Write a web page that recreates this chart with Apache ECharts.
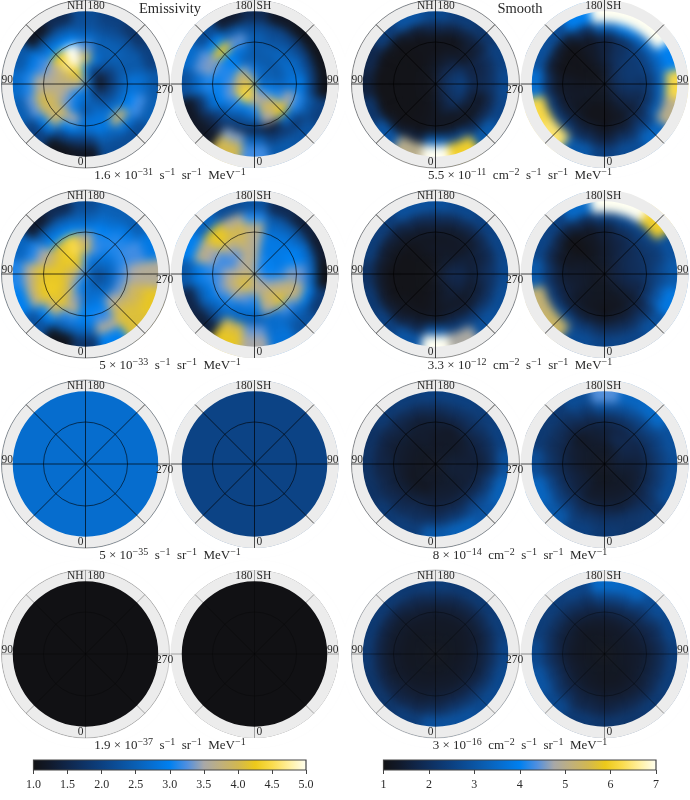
<!DOCTYPE html>
<html>
<head>
<meta charset="utf-8">
<script src="https://cdn.jsdelivr.net/npm/echarts@6/dist/echarts.min.js"></script>
<style>
html, body { margin: 0; padding: 0; background: #fff; }
#heat, #over { position: absolute; left: 0; top: 0; width: 690px; height: 800px; }
/* the source map is a smoothed image, so the cell layer gets a soft blur */
#heat { filter: blur(4px); }
</style>
</head>
<body>
<div id="heat"></div>
<div id="over"></div>
<script>
// radial cell edges (axis runs 0..1, the map stops at 0.866 under the grey ring)
var ringEdges = [0, 0.12, 0.25, 0.38, 0.5, 0.62, 0.74, 1];

var palette = ['#111114', '#111a2c', '#10264a', '#0e3366', '#0c4080', '#0b4f9a', '#0a5fb4', '#066fd2', '#0080f0',
    '#4f8fe0', '#a8a8a8', '#c0b07c', '#d2b850', '#ecc91a', '#fadc4e', '#fff0a0', '#fffff2'];

// rows = rings from the pole outward, columns = longitude 0, 22.5, ... 337.5
var emisNh1 = [
    [2.8, 3.0, 3.2, 3.5, 3.6, 3.8, 4.0, 3.8, 3.0, 2.6, 2.4, 2.2, 2.0, 2.2, 2.5, 2.7],
    [2.7, 2.8, 3.0, 3.4, 3.7, 3.9, 4.2, 4.5, 3.0, 2.3, 1.7, 1.3, 1.2, 1.5, 2.0, 2.4],
    [2.3, 2.9, 3.3, 3.6, 3.7, 3.8, 4.6, 5.0, 4.0, 2.8, 2.3, 1.9, 1.9, 2.1, 2.3, 2.6],
    [2.8, 3.5, 3.9, 3.9, 3.6, 3.5, 4.3, 5.0, 3.3, 2.5, 2.5, 2.4, 2.5, 2.6, 2.8, 2.8],
    [2.7, 3.0, 3.8, 4.0, 3.6, 3.2, 3.0, 3.0, 2.7, 2.5, 2.5, 2.4, 2.8, 3.0, 3.8, 2.9],
    [1.9, 2.0, 2.9, 3.3, 3.1, 2.9, 2.4, 2.4, 2.3, 2.2, 2.3, 2.4, 2.7, 3.2, 2.8, 2.5],
    [1.2, 1.1, 2.0, 2.5, 2.7, 2.4, 1.2, 1.6, 2.2, 2.0, 1.8, 2.0, 2.4, 2.5, 2.2, 2.2]
];
var emisSh1 = [
    [3.6, 3.3, 3.0, 2.8, 2.7, 2.6, 2.6, 2.8, 3.2, 3.7, 3.9, 4.0, 4.1, 4.3, 4.5, 4.2],
    [3.6, 3.5, 3.4, 3.0, 2.7, 2.5, 2.5, 2.6, 2.7, 3.2, 3.7, 3.9, 3.7, 4.2, 4.5, 4.4],
    [3.1, 3.9, 3.9, 3.1, 2.6, 2.4, 2.4, 2.4, 2.4, 2.5, 3.0, 3.1, 3.2, 3.3, 3.1, 2.9],
    [2.4, 3.5, 4.2, 3.5, 2.8, 2.7, 2.6, 2.5, 2.4, 2.8, 3.0, 3.1, 3.0, 3.0, 2.6, 2.3],
    [1.6, 1.4, 2.6, 3.1, 2.9, 2.6, 2.4, 2.3, 2.5, 3.3, 4.2, 3.4, 3.1, 2.7, 2.0, 1.8],
    [2.5, 1.9, 1.9, 2.4, 2.0, 2.0, 2.0, 2.1, 2.2, 2.4, 3.0, 3.3, 2.7, 1.8, 1.5, 3.4],
    [3.2, 2.4, 2.3, 2.0, 1.1, 1.1, 1.1, 1.2, 1.6, 1.3, 2.2, 2.7, 2.3, 1.2, 1.2, 4.0]
];
var emisNh2 = [
    [2.9, 3.0, 3.1, 3.2, 3.3, 3.5, 3.6, 3.4, 3.0, 2.7, 2.6, 2.4, 2.3, 2.4, 2.5, 2.7],
    [2.7, 3.0, 3.4, 3.8, 3.9, 4.1, 4.2, 4.2, 3.2, 2.9, 2.6, 2.5, 2.2, 2.2, 2.4, 2.6],
    [2.7, 3.4, 4.0, 4.2, 4.2, 4.2, 4.3, 4.5, 4.0, 3.2, 2.9, 2.7, 2.6, 2.6, 2.7, 2.8],
    [3.0, 3.7, 4.2, 4.3, 4.2, 3.9, 4.1, 4.4, 3.6, 3.1, 3.1, 3.1, 3.2, 3.3, 3.5, 3.0],
    [3.0, 3.1, 3.8, 4.2, 4.1, 3.5, 3.0, 3.0, 2.9, 3.0, 3.1, 3.2, 3.5, 3.8, 3.9, 3.2],
    [2.6, 2.5, 3.0, 3.7, 3.6, 3.1, 2.5, 2.5, 2.5, 2.7, 2.9, 3.2, 3.6, 4.0, 4.1, 3.6],
    [1.8, 1.1, 2.3, 3.0, 3.1, 2.6, 1.3, 1.6, 2.2, 2.5, 2.5, 2.9, 3.6, 4.2, 4.1, 3.0]
];
var emisSh2 = [
    [3.7, 3.6, 3.4, 3.3, 3.2, 3.1, 3.1, 3.2, 3.5, 3.6, 3.6, 3.7, 3.8, 4.0, 4.0, 3.9],
    [3.6, 3.6, 3.6, 3.3, 3.0, 3.0, 3.0, 3.1, 3.6, 3.7, 3.6, 3.5, 3.7, 4.0, 4.1, 3.9],
    [3.1, 3.8, 3.9, 3.6, 3.1, 2.9, 2.9, 2.9, 3.6, 3.7, 3.3, 3.2, 3.5, 3.7, 3.6, 3.3],
    [2.8, 3.6, 4.1, 3.8, 3.4, 3.0, 2.9, 2.9, 3.6, 3.9, 3.6, 3.2, 3.2, 3.3, 3.1, 2.8],
    [2.5, 2.7, 3.2, 3.7, 3.3, 3.0, 2.8, 2.7, 3.7, 4.0, 4.2, 3.5, 3.1, 2.9, 2.7, 2.6],
    [3.3, 2.7, 2.6, 2.9, 2.6, 2.6, 2.4, 2.4, 3.1, 3.6, 4.2, 3.7, 2.9, 2.5, 2.2, 4.0],
    [3.5, 2.8, 2.3, 1.9, 1.1, 1.3, 1.4, 1.6, 2.3, 2.2, 2.6, 3.0, 2.4, 1.5, 1.4, 4.2]
];
var emisNh3 = [[2.72]];
var emisSh3 = [[2.05]];
var emisNh4 = [[1.0]];
var emisSh4 = [[1.0]];

var smoothNh1 = [
    [1.3, 1.2, 1.1, 1.1, 1.1, 1.1, 1.1, 1.2, 1.4, 1.5, 1.6, 1.7, 1.8, 1.7, 1.6, 1.4],
    [1.3, 1.1, 1.1, 1.1, 1.1, 1.1, 1.1, 1.2, 1.3, 1.6, 1.8, 2.1, 2.2, 2.1, 1.9, 1.6],
    [1.2, 1.1, 1.05, 1.05, 1.05, 1.05, 1.05, 1.1, 1.2, 1.4, 1.7, 2.2, 2.5, 2.3, 2.0, 1.6],
    [1.2, 1.1, 1.05, 1.05, 1.05, 1.05, 1.05, 1.1, 1.1, 1.2, 1.3, 1.7, 1.8, 1.6, 1.4, 1.2],
    [1.3, 1.1, 1.05, 1.05, 1.05, 1.05, 1.05, 1.1, 1.2, 1.1, 1.4, 1.7, 1.8, 1.3, 1.2, 1.3],
    [3.2, 1.6, 1.3, 1.1, 1.05, 1.1, 1.2, 1.5, 1.8, 1.6, 1.6, 2.0, 2.1, 1.8, 1.9, 2.6],
    [7.0, 5.0, 3.0, 2.2, 1.6, 1.8, 2.4, 3.0, 2.7, 2.4, 2.2, 2.5, 2.7, 2.6, 3.1, 6.0]
];
var smoothSh1 = [
    [1.3, 1.3, 1.4, 1.5, 1.6, 1.7, 1.6, 1.4, 1.3, 1.2, 1.1, 1.1, 1.1, 1.2, 1.2, 1.3],
    [1.2, 1.4, 1.6, 1.9, 2.0, 2.1, 2.0, 1.7, 1.4, 1.2, 1.1, 1.1, 1.2, 1.3, 1.2, 1.2],
    [1.1, 1.3, 1.6, 1.9, 2.2, 2.3, 2.2, 2.0, 1.6, 1.3, 1.1, 1.1, 1.2, 1.3, 1.2, 1.1],
    [1.1, 1.2, 1.5, 1.8, 2.1, 2.3, 2.3, 2.0, 1.6, 1.3, 1.1, 1.1, 1.3, 1.3, 1.2, 1.1],
    [1.3, 1.5, 1.9, 2.2, 2.4, 2.6, 2.5, 2.1, 1.7, 1.3, 1.05, 1.1, 1.3, 1.5, 1.6, 1.5],
    [1.7, 2.1, 2.5, 3.2, 3.4, 3.4, 3.5, 3.8, 3.4, 2.0, 1.4, 1.5, 2.0, 2.4, 2.4, 2.0],
    [2.5, 2.8, 3.4, 5.0, 6.2, 4.0, 7.0, 7.0, 7.0, 4.0, 2.8, 2.9, 3.6, 6.2, 6.4, 3.1]
];
var smoothNh2 = [
    [1.2, 1.15, 1.1, 1.1, 1.1, 1.1, 1.1, 1.1, 1.2, 1.25, 1.3, 1.4, 1.5, 1.5, 1.4, 1.3],
    [1.2, 1.1, 1.05, 1.05, 1.05, 1.05, 1.05, 1.1, 1.2, 1.3, 1.4, 1.6, 1.8, 1.7, 1.5, 1.3],
    [1.2, 1.1, 1.05, 1.05, 1.05, 1.05, 1.1, 1.2, 1.3, 1.3, 1.3, 1.6, 1.8, 1.7, 1.5, 1.4],
    [1.2, 1.1, 1.1, 1.05, 1.05, 1.05, 1.1, 1.2, 1.2, 1.25, 1.3, 1.5, 1.5, 1.4, 1.3, 1.3],
    [1.4, 1.3, 1.2, 1.1, 1.1, 1.2, 1.3, 1.4, 1.5, 1.4, 1.4, 1.6, 1.8, 1.6, 1.5, 1.6],
    [3.0, 1.8, 1.5, 1.4, 1.4, 1.5, 1.6, 1.9, 2.0, 1.9, 1.8, 1.9, 2.1, 2.1, 2.3, 2.4],
    [7.0, 3.0, 2.5, 2.3, 2.1, 2.4, 2.4, 2.9, 2.9, 2.7, 2.5, 2.6, 2.7, 2.8, 2.9, 4.8]
];
var smoothSh2 = [
    [1.2, 1.3, 1.4, 1.5, 1.5, 1.5, 1.4, 1.3, 1.3, 1.2, 1.2, 1.2, 1.2, 1.2, 1.2, 1.2],
    [1.2, 1.3, 1.4, 1.6, 1.7, 1.7, 1.6, 1.5, 1.4, 1.3, 1.2, 1.3, 1.3, 1.3, 1.2, 1.2],
    [1.2, 1.2, 1.4, 1.7, 1.9, 1.9, 1.8, 1.6, 1.4, 1.2, 1.1, 1.3, 1.4, 1.4, 1.3, 1.2],
    [1.1, 1.2, 1.4, 1.7, 2.0, 2.0, 1.9, 1.7, 1.5, 1.2, 1.05, 1.2, 1.4, 1.5, 1.3, 1.2],
    [1.4, 1.5, 1.7, 2.2, 2.3, 2.2, 2.2, 2.0, 1.6, 1.3, 1.05, 1.3, 1.6, 1.7, 1.6, 1.5],
    [2.0, 2.0, 2.2, 3.0, 2.7, 2.4, 2.6, 2.7, 2.5, 1.9, 1.6, 1.8, 2.2, 2.4, 2.6, 2.3],
    [2.6, 2.6, 2.9, 3.8, 3.1, 2.9, 6.0, 7.0, 7.0, 3.5, 2.5, 2.6, 3.1, 5.2, 5.3, 2.8]
];
var smoothNh3 = [
    [1.2, 1.2, 1.2, 1.2, 1.2, 1.2, 1.2, 1.2, 1.25, 1.3, 1.3, 1.3, 1.3, 1.3, 1.3, 1.25],
    [1.3, 1.3, 1.3, 1.2, 1.2, 1.2, 1.2, 1.3, 1.3, 1.3, 1.3, 1.4, 1.5, 1.5, 1.4, 1.3],
    [1.4, 1.2, 1.2, 1.2, 1.3, 1.3, 1.3, 1.4, 1.3, 1.3, 1.3, 1.4, 1.5, 1.5, 1.4, 1.4],
    [1.5, 1.5, 1.4, 1.4, 1.4, 1.4, 1.4, 1.4, 1.4, 1.3, 1.4, 1.5, 1.5, 1.5, 1.5, 1.5],
    [1.7, 1.8, 1.7, 1.6, 1.6, 1.5, 1.6, 1.5, 1.6, 1.7, 1.8, 1.7, 1.6, 1.8, 1.9, 1.8],
    [2.1, 2.0, 1.9, 1.8, 1.7, 1.7, 1.8, 1.9, 2.0, 2.1, 2.1, 2.0, 2.0, 2.4, 2.6, 2.3],
    [3.1, 2.4, 2.3, 2.1, 2.1, 2.1, 2.3, 2.4, 2.5, 2.5, 2.4, 2.5, 2.9, 3.3, 3.0, 3.3]
];
var smoothSh3 = [
    [1.2, 1.2, 1.3, 1.3, 1.3, 1.3, 1.3, 1.3, 1.25, 1.2, 1.2, 1.2, 1.2, 1.2, 1.2, 1.2],
    [1.2, 1.2, 1.3, 1.4, 1.5, 1.6, 1.5, 1.4, 1.3, 1.3, 1.3, 1.3, 1.3, 1.3, 1.3, 1.2],
    [1.3, 1.3, 1.3, 1.4, 1.5, 1.7, 1.8, 1.8, 1.5, 1.4, 1.3, 1.4, 1.4, 1.5, 1.5, 1.3],
    [1.4, 1.4, 1.4, 1.5, 1.6, 1.7, 1.8, 1.7, 1.6, 1.5, 1.3, 1.5, 1.6, 1.7, 1.6, 1.4],
    [1.7, 1.6, 1.7, 1.9, 2.0, 2.1, 2.2, 2.1, 2.0, 1.8, 1.7, 1.8, 1.9, 2.0, 2.0, 1.8],
    [2.1, 2.1, 2.0, 2.3, 2.4, 2.5, 2.7, 2.8, 2.9, 2.3, 2.0, 2.0, 2.2, 2.6, 2.5, 2.2],
    [2.3, 2.2, 2.3, 2.8, 2.8, 2.9, 3.5, 3.4, 4.4, 2.8, 2.3, 2.3, 2.8, 3.4, 3.1, 2.5]
];
var smoothNh4 = [
    [1.15, 1.15, 1.15, 1.15, 1.15, 1.15, 1.15, 1.15, 1.15, 1.15, 1.15, 1.15, 1.15, 1.15, 1.15, 1.15],
    [1.2, 1.2, 1.2, 1.2, 1.2, 1.2, 1.2, 1.2, 1.2, 1.2, 1.2, 1.2, 1.2, 1.2, 1.2, 1.2],
    [1.3, 1.25, 1.25, 1.2, 1.2, 1.2, 1.2, 1.25, 1.25, 1.25, 1.25, 1.25, 1.25, 1.3, 1.3, 1.3],
    [1.4, 1.35, 1.3, 1.3, 1.3, 1.3, 1.3, 1.3, 1.3, 1.3, 1.3, 1.35, 1.4, 1.4, 1.4, 1.4],
    [1.6, 1.5, 1.5, 1.4, 1.4, 1.4, 1.4, 1.5, 1.5, 1.5, 1.5, 1.5, 1.6, 1.6, 1.7, 1.7],
    [2.0, 1.8, 1.7, 1.7, 1.7, 1.7, 1.7, 1.8, 1.9, 1.8, 1.8, 1.9, 2.0, 2.1, 2.2, 2.2],
    [2.9, 2.4, 2.2, 2.2, 2.3, 2.3, 2.3, 2.3, 2.4, 2.3, 2.3, 2.4, 2.6, 2.7, 2.7, 2.9]
];
var smoothSh4 = [
    [1.15, 1.15, 1.15, 1.15, 1.15, 1.15, 1.15, 1.15, 1.15, 1.15, 1.15, 1.15, 1.15, 1.15, 1.15, 1.15],
    [1.2, 1.2, 1.2, 1.25, 1.25, 1.25, 1.25, 1.25, 1.2, 1.2, 1.2, 1.2, 1.2, 1.2, 1.2, 1.2],
    [1.2, 1.2, 1.25, 1.3, 1.35, 1.35, 1.35, 1.3, 1.3, 1.25, 1.2, 1.25, 1.25, 1.3, 1.3, 1.25],
    [1.3, 1.3, 1.35, 1.4, 1.4, 1.45, 1.5, 1.5, 1.45, 1.4, 1.35, 1.4, 1.4, 1.45, 1.4, 1.35],
    [1.5, 1.5, 1.5, 1.6, 1.6, 1.7, 1.8, 1.9, 1.9, 1.7, 1.6, 1.6, 1.7, 1.8, 1.7, 1.6],
    [1.7, 1.8, 1.8, 1.9, 1.9, 2.0, 2.3, 2.6, 2.6, 2.1, 2.0, 2.0, 2.1, 2.3, 2.1, 1.8],
    [2.2, 2.2, 2.3, 2.4, 2.4, 2.6, 2.8, 3.4, 3.5, 2.6, 2.4, 2.4, 2.7, 3.0, 2.7, 2.3]
];

var emisCaptions = ['1.6 × 10^−31^  s^−1^  sr^−1^  MeV^−1^', '5 × 10^−33^  s^−1^  sr^−1^  MeV^−1^', '5 × 10^−35^  s^−1^  sr^−1^  MeV^−1^', '1.9 × 10^−37^  s^−1^  sr^−1^  MeV^−1^'];
var smoothCaptions = ['5.5 × 10^−11^  cm^−2^  s^−1^  sr^−1^  MeV^−1^', '3.3 × 10^−12^  cm^−2^  s^−1^  sr^−1^  MeV^−1^', '8 × 10^−14^  cm^−2^  s^−1^  sr^−1^  MeV^−1^', '3 × 10^−16^  cm^−2^  s^−1^  sr^−1^  MeV^−1^'];

var emisGrids = [[emisNh1, emisSh1], [emisNh2, emisSh2], [emisNh3, emisSh3], [emisNh4, emisSh4]];
var smoothGrids = [[smoothNh1, smoothSh1], [smoothNh2, smoothSh2], [smoothNh3, smoothSh3], [smoothNh4, smoothSh4]];

var rowY = [84, 274, 464, 654];
var spokeAngles = [0, 45, 90, 135, 180, 225, 270, 315];
var FONT = '"Liberation Serif", "DejaVu Serif", serif';
var TEXT = '#2a2a2a';
var RADIUS_MAX = 1.12;   // axis runs past the plot so a white mask fits outside the ring
var OUTER_PX = 84;

function cellData(grid) {
    var out = [];
    grid.forEach(function (row, i) {
        var r0 = grid.length === 1 ? 0 : ringEdges[i];
        var r1 = grid.length === 1 ? 1 : ringEdges[i + 1];
        row.forEach(function (v, k) {
            var w = 360 / row.length;
            out.push([r0, r1, row.length === 1 ? 180 : k * w, v, w]);
        });
    });
    return out;
}

function renderCell(params, api) {
    var a = api.value(2), w = api.value(4);
    var inner = api.coord([api.value(0), a]);
    var outer = api.coord([api.value(1), a]);
    var half = w / 2 * Math.PI / 180;
    var color = api.visual('color');
    return {
        type: 'sector',
        shape: {
            cx: params.coordSys.cx, cy: params.coordSys.cy,
            r0: inner[2], r: outer[2],
            startAngle: -(inner[3] + half), endAngle: -(inner[3] - half)
        },
        style: { fill: color, stroke: color, lineWidth: 0.6 }
    };
}

function ringRenderer(fill) {
    return function (params, api) {
        return {
            type: 'sector',
            shape: {
                cx: params.coordSys.cx, cy: params.coordSys.cy,
                r0: api.coord([api.value(0), 0])[2], r: api.coord([api.value(1), 0])[2],
                startAngle: 0, endAngle: Math.PI * 2
            },
            style: { fill: fill }
        };
    };
}

function circleRenderer(alpha) {
    return function (params, api) {
        var edge = api.value(0) === 1;
        return {
            type: 'circle',
            shape: { cx: params.coordSys.cx, cy: params.coordSys.cy, r: api.coord([api.value(0), 0])[2] },
            style: { fill: 'none', stroke: '#000', lineWidth: edge ? 0.6 : 0.7, opacity: edge ? alpha * 0.75 : alpha }
        };
    };
}

function spokeRenderer(alpha) {
    return function (params, api) {
        var p = api.coord([api.value(0), api.value(1)]);
        return {
            type: 'line',
            shape: { x1: params.coordSys.cx, y1: params.coordSys.cy, x2: p[0], y2: p[1] },
            style: { stroke: '#000', lineWidth: 0.8, opacity: alpha }
        };
    };
}

function txt(text, x, y, size, align) {
    return {
        type: 'text', silent: true, z: 20,
        style: { text: text, x: x, y: y, fill: TEXT, font: size + 'px ' + FONT, align: align, verticalAlign: 'middle' }
    };
}

// caption with ^..^ marking the raised parts
function caption(str, x, y) {
    var text = str.split('^').map(function (part, i) {
        return '{' + (i % 2 ? 's' : 'n') + '|' + part + '}';
    }).join('');
    return {
        type: 'text', silent: true, z: 20,
        style: {
            text: text, x: x, y: y, align: 'center', verticalAlign: 'middle',
            rich: {
                n: { fontFamily: FONT, fontSize: 13, fill: TEXT, color: TEXT, lineHeight: 15, verticalAlign: 'bottom' },
                s: { fontFamily: FONT, fontSize: 10, fill: TEXT, color: TEXT, lineHeight: 15, verticalAlign: 'top' }
            }
        }
    };
}

var polars = [], angleAxes = [], radiusAxes = [], heatSeries = [], overSeries = [], labels = [];
var leftIdx = [], rightIdx = [];

function addPanel(grid, cx, cy, isNh, alpha, mapIdx) {
    var i = polars.length;
    polars.push({ center: [cx, cy], radius: OUTER_PX * RADIUS_MAX });
    radiusAxes.push({ polarIndex: i, min: 0, max: RADIUS_MAX, show: false });
    angleAxes.push({ polarIndex: i, min: 0, max: 360, startAngle: 270, clockwise: isNh, show: false });
    heatSeries.push({
        type: 'custom', coordinateSystem: 'polar', polarIndex: i, silent: true, animation: false,
        renderItem: renderCell, data: cellData(grid), dimensions: ['r0', 'r1', 'lon', 'value', 'width']
    });
    (mapIdx === 0 ? leftIdx : rightIdx).push(i);
    overSeries.push({
        type: 'custom', coordinateSystem: 'polar', polarIndex: i, silent: true, animation: false, z: 1,
        renderItem: ringRenderer('#fff'), data: [[1, RADIUS_MAX]]
    });
    overSeries.push({
        type: 'custom', coordinateSystem: 'polar', polarIndex: i, silent: true, animation: false, z: 2,
        renderItem: ringRenderer('#ececec'), data: [[0.866, 1]]
    });
    overSeries.push({
        type: 'custom', coordinateSystem: 'polar', polarIndex: i, silent: true, animation: false, z: 6,
        renderItem: circleRenderer(alpha), data: isNh ? [[0.5], [1]] : [[0.5]]
    });
    overSeries.push({
        type: 'custom', coordinateSystem: 'polar', polarIndex: i, silent: true, animation: false, z: 6,
        renderItem: spokeRenderer(alpha), data: spokeAngles.map(function (a) { return [1, a]; })
    });
    if (isNh) {
        labels.push(txt('NH', cx - 2, cy - 78, 11.5, 'right'), txt('180', cx + 2, cy - 78, 11.5, 'left'),
            txt('90', cx - 84, cy - 4, 11.5, 'left'), txt('270', cx + 79, cy + 6, 11.5, 'center'),
            txt('0', cx - 2, cy + 78, 11.5, 'right'));
    } else {
        labels.push(txt('180', cx - 2, cy - 78, 11.5, 'right'), txt('SH', cx + 2, cy - 78, 11.5, 'left'),
            txt('90', cx + 72.5, cy - 4, 11.5, 'left'), txt('0', cx + 2, cy + 78, 11.5, 'left'));
    }
}

var leftAlpha = [0.9, 0.9, 0.85, 0.4];
var rightAlpha = [0.9, 0.9, 0.85, 0.5];
rowY.forEach(function (y, r) {
    addPanel(emisGrids[r][0], 85.5, y, true, leftAlpha[r], 0);
    addPanel(emisGrids[r][1], 254.5, y, false, leftAlpha[r], 0);
    addPanel(smoothGrids[r][0], 435.5, y, true, rightAlpha[r], 1);
    addPanel(smoothGrids[r][1], 604.5, y, false, rightAlpha[r], 1);
    labels.push(caption(emisCaptions[r], 170, y + 91), caption(smoothCaptions[r], 520, y + 91));
});
labels.push(txt('Emissivity', 170, 9, 14.5, 'center'), txt('Smooth', 520, 9, 14.5, 'center'));

echarts.init(document.getElementById('heat')).setOption({
    animation: false,
    polar: polars, angleAxis: angleAxes, radiusAxis: radiusAxes,
    visualMap: [
        { show: false, min: 1, max: 5, dimension: 3, seriesIndex: leftIdx, inRange: { color: palette } },
        { show: false, min: 1, max: 7, dimension: 3, seriesIndex: rightIdx, inRange: { color: palette } }
    ],
    series: heatSeries
});

// colour bars
function renderBar(params, api) {
    var a = api.coord([api.value(0), 0]), b = api.coord([api.value(1), 1]);
    return {
        type: 'rect',
        shape: { x: a[0], y: b[1], width: b[0] - a[0], height: a[1] - b[1] },
        style: {
            fill: new echarts.graphic.LinearGradient(0, 0, 1, 0, palette.map(function (c, i) {
                return { offset: i / (palette.length - 1), color: c };
            })),
            stroke: '#444', lineWidth: 1.2
        }
    };
}
var leftBarTicks = { min: 1, max: 5, interval: 0.5 };
var rightBarTicks = { min: 1, max: 7, interval: 1 };
function barAxis(idx, t, digits) {
    return {
        type: 'value', gridIndex: idx, min: t.min, max: t.max, interval: t.interval,
        axisLine: { show: false }, splitLine: { show: false },
        axisTick: { show: true, length: 4, lineStyle: { color: '#444', width: 1 } },
        axisLabel: {
            color: TEXT, fontFamily: FONT, fontSize: 12, margin: 9, showMinLabel: true, showMaxLabel: true,
            formatter: function (v) { return v.toFixed(digits); }
        }
    };
}
overSeries.push(
    { type: 'custom', coordinateSystem: 'cartesian2d', xAxisIndex: 0, yAxisIndex: 0, renderItem: renderBar, data: [[leftBarTicks.min, leftBarTicks.max]], silent: true, z: 3 },
    { type: 'custom', coordinateSystem: 'cartesian2d', xAxisIndex: 1, yAxisIndex: 1, renderItem: renderBar, data: [[rightBarTicks.min, rightBarTicks.max]], silent: true, z: 3 }
);

echarts.init(document.getElementById('over')).setOption({
    animation: false,
    polar: polars, angleAxis: angleAxes, radiusAxis: radiusAxes,
    grid: [
        { left: 33.5, width: 272.5, top: 760, height: 10 },
        { left: 383.5, width: 272.5, top: 760, height: 10 }
    ],
    xAxis: [barAxis(0, leftBarTicks, 1), barAxis(1, rightBarTicks, 0)],
    yAxis: [
        { type: 'value', gridIndex: 0, min: 0, max: 1, show: false },
        { type: 'value', gridIndex: 1, min: 0, max: 1, show: false }
    ],
    series: overSeries,
    graphic: { elements: labels }
});
</script>
</body>
</html>
